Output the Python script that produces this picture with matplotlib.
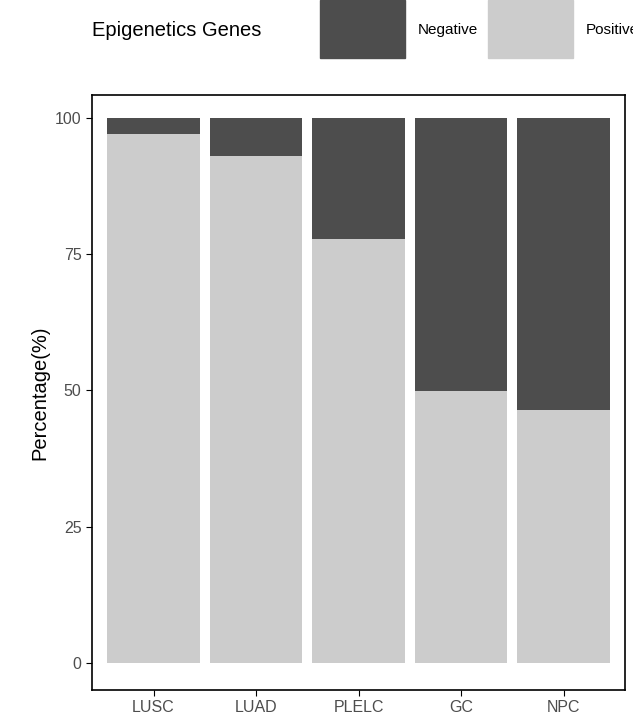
import matplotlib
matplotlib.use("Agg")
import matplotlib.pyplot as plt
from matplotlib.patches import Rectangle

plt.rcParams['font.family'] = ['Liberation Sans', 'DejaVu Sans']

categories = ["LUSC", "LUAD", "PLELC", "GC", "NPC"]
positive = [97.1, 93.0, 77.8, 49.9, 46.4]
negative = [100 - p for p in positive]
yticks = [0, 25, 50, 75, 100]
dark, light = "#4d4d4d", "#cccccc"

W, H = 633, 724
fig = plt.figure(figsize=(W/100, H/100), dpi=100)
ax = fig.add_axes([92/W, 1-690/H, (625-92)/W, (690-95)/H])
x = list(range(1, len(categories)+1))
ax.bar(x, positive, width=0.9, color=light)
ax.bar(x, negative, bottom=positive, width=0.9, color=dark)
ax.set_xlim(0.4, 5.6)
ax.set_ylim(-5, 104.2)
ax.set_xticks(x)
ax.set_xticklabels(categories)
ax.set_yticks(yticks)
ax.tick_params(labelsize=11.5, colors="black", length=4)
for lab in ax.get_xticklabels() + ax.get_yticklabels():
    lab.set_color("#4d4d4d")
ax.set_ylabel("Percentage(%)", fontsize=14.5)
for s in ax.spines.values():
    s.set_linewidth(1.2)

# legend
fig.text(92/W, 1-30/H, "Epigenetics Genes", fontsize=14.5, va="center", ha="left")
for x0, c, lab in [(320, dark, "Negative"), (488, light, "Positive")]:
    fig.patches.append(Rectangle((x0/W, 1-58/H), 85/W, 58/H, color=c, transform=fig.transFigure))
    fig.text((x0+98)/W, 1-30/H, lab, fontsize=11, va="center", ha="left")

fig.savefig("out.png", dpi=100)
